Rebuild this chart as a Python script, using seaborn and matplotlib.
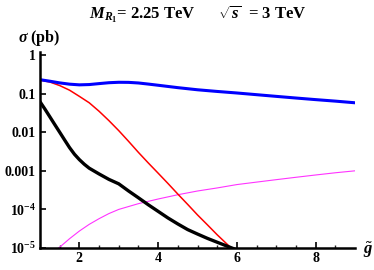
import numpy as np
import matplotlib
matplotlib.use("Agg")
import matplotlib.pyplot as plt
import seaborn as sns

# values (sigma in pb vs g-tilde)
x_blue = [1.0, 1.25, 1.5, 1.75, 2.0, 2.25, 2.5, 2.75, 3.0, 3.25, 3.5, 3.75, 4.0, 4.5, 5.0, 5.5, 6.0, 6.5, 7.0, 7.5, 8.0, 8.5, 9.0]
sig_blue = [0.23, 0.21, 0.19, 0.176, 0.169, 0.172, 0.182, 0.192, 0.197, 0.196, 0.189, 0.177, 0.165, 0.143, 0.126, 0.114, 0.104, 0.094, 0.085, 0.077, 0.07, 0.064, 0.058]

x_red = [1.0, 1.25, 1.5, 1.75, 2.0, 2.25, 2.5, 2.75, 3.0, 3.25, 3.5, 3.75, 4.0, 4.25, 4.5, 4.75, 5.0, 5.25, 5.5, 5.75, 6.0]
sig_red = [0.224, 0.2, 0.162, 0.123, 0.085, 0.058, 0.035, 0.02, 0.011, 0.0058, 0.003, 0.0016,
           0.00087, 0.00047, 0.00025, 0.000135, 7.2e-5, 4.0e-5, 2.2e-5, 1.26e-5, 7.1e-6]

x_black = [1.0, 1.125, 1.25, 1.375, 1.5, 1.625, 1.75, 1.875, 2.0, 2.125, 2.25, 2.5, 2.75, 3.0,
           3.25, 3.5, 3.75, 4.0, 4.25, 4.5, 4.75, 5.0, 5.25, 5.5, 5.75, 6.0]
sig_black = [0.0617, 0.0398, 0.0251, 0.0158, 0.0100, 0.0063, 0.0040, 0.00269, 0.00195, 0.00148,
             0.00117, 0.00083, 0.0006, 0.00046, 0.0003, 0.0002, 0.000132, 8.9e-5, 6.0e-5, 4.2e-5,
             3.0e-5, 2.3e-5, 1.78e-5, 1.41e-5, 1.12e-5, 8.9e-6]

x_mag = [1.4, 1.5, 1.75, 2.0, 2.25, 2.5, 2.75, 3.0, 3.5, 4.0, 4.5, 5.0, 5.5, 6.0, 6.5, 7.0, 7.5, 8.0, 8.5, 9.0]
sig_mag = [8.9e-6, 1.05e-5, 1.74e-5, 2.75e-5, 4.1e-5, 5.75e-5, 7.8e-5, 1e-4, 1.41e-4, 1.86e-4,
           2.4e-4, 3.0e-4, 3.6e-4, 4.4e-4, 5.1e-4, 5.9e-4, 6.8e-4, 7.8e-4, 8.9e-4, 1e-3]

y_ticks = [1, 0.1, 0.01, 0.001, 1e-4, 1e-5]
y_tick_labels = ["1", "0.1", "0.01", "0.001", r"$10^{-4}$", r"$10^{-5}$"]
x_ticks = [2, 4, 6, 8]

sns.set_style("ticks")
plt.rcParams["font.family"] = ["Liberation Serif", "DejaVu Serif"]
plt.rcParams["font.weight"] = "bold"
plt.rcParams["text.color"] = "black"
plt.rcParams["mathtext.fontset"] = "custom"
plt.rcParams["mathtext.rm"] = "Liberation Serif:bold"
plt.rcParams["mathtext.it"] = "Liberation Serif:italic:bold"
plt.rcParams["mathtext.bf"] = "Liberation Serif:bold"

fig = plt.figure(figsize=(3.74, 2.70), dpi=100)
ax = fig.add_axes([40 / 374, 22 / 270, 315 / 374, 196 / 270])

sns.lineplot(x=x_mag, y=sig_mag, ax=ax, color="#ff33ff", lw=0.8)
sns.lineplot(x=x_red, y=sig_red, ax=ax, color="#ff0000", lw=1.1)
sns.lineplot(x=x_black, y=sig_black, ax=ax, color="black", lw=2.4)
sns.lineplot(x=x_blue, y=sig_blue, ax=ax, color="#0000ff", lw=2.2)

ax.set_yscale("log")
ax.set_xlim(1, 9)
ax.set_ylim(1e-5, 1.2)
ax.set_yticks(y_ticks)
ax.set_yticklabels(y_tick_labels)
ax.yaxis.set_minor_locator(matplotlib.ticker.NullLocator())
ax.set_xticks(x_ticks)
ax.set_xticks(np.arange(1.5, 9.0, 0.5), minor=True)

for s in ["top", "right"]:
    ax.spines[s].set_visible(False)
for s in ["left", "bottom"]:
    ax.spines[s].set_linewidth(1.8)
    ax.spines[s].set_color("black")

ax.tick_params(axis="both", which="major", direction="in", length=4, width=1.2,
               labelsize=10, colors="black", pad=3)
ax.tick_params(axis="x", which="minor", direction="in", length=2.5, width=1.0)
for lab in ax.get_xticklabels() + ax.get_yticklabels():
    lab.set_fontweight("bold")

ax.set_xlabel("")
ax.set_ylabel("")
fig.text(0.528, 0.945, r"$M_{R_1}$= 2.25 TeV      $\sqrt{s}$  = 3 TeV",
         ha="center", va="center", fontsize=12, fontweight="bold", color="black")
fig.text(18 / 374, 1 - 38 / 270, r"$\sigma$ (pb)", ha="left", va="center",
         fontsize=11.5, fontweight="bold", color="black")
fig.text(363 / 374, 1 - 250 / 270, r"$\tilde{g}$", ha="left", va="center",
         fontsize=12, color="black")

fig.savefig("out.png", dpi=100)
